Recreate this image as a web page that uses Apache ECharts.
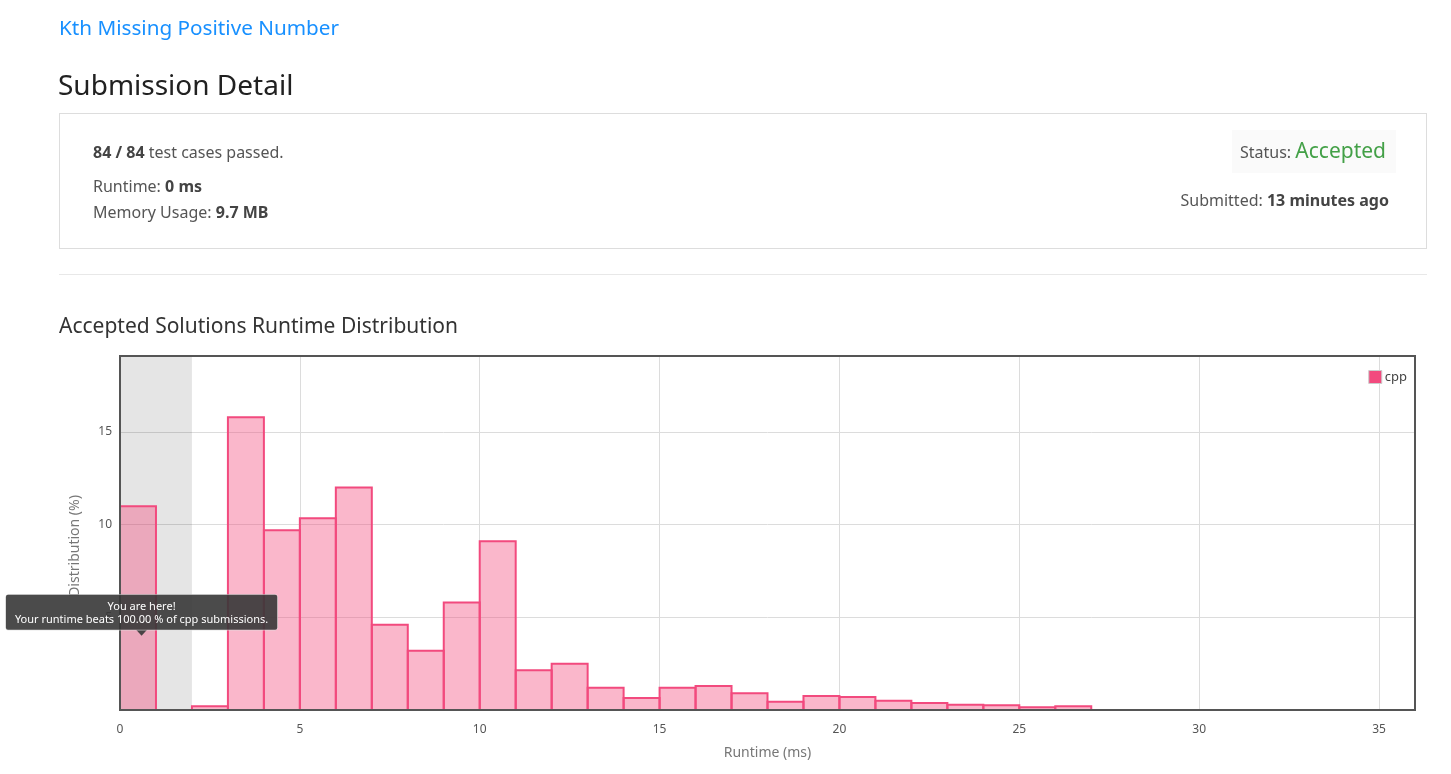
<!DOCTYPE html>
<html>
<head>
<meta charset="utf-8">
<script src="https://cdn.jsdelivr.net/npm/echarts@6/dist/echarts.min.js"></script>
<style>
  html, body { margin: 0; padding: 0; background: #fff; }
  body { width: 1451px; height: 774px; position: relative; overflow: hidden; font-family: "Noto Sans", "Open Sans", sans-serif; }
  #chart { position: absolute; left: 0; top: 0; width: 1451px; height: 774px; }
  .t { position: absolute; white-space: nowrap; }
  #q { left: 59px; top: 13px; line-height: 28px; font-size: 20.7px; color: #1890ff; }
  #h { left: 58px; top: 64px; line-height: 40px; font-size: 28px; color: #212121; }
  #box { position: absolute; left: 59px; top: 113px; width: 1366px; height: 134px; border: 1px solid #ddd; }
  .info { font-size: 16px; color: #555; line-height: 22px; }
  .info b { color: #444; }
  #l1 { left: 93px; top: 141px; }
  #l2 { left: 93px; top: 175px; }
  #l3 { left: 93px; top: 201px; }
  #st { position: absolute; left: 1232px; top: 130px; width: 164px; height: 43px; background: #fafafa; }
  #st1 { right: 65px; top: 136px; line-height: 28px; font-size: 16px; color: #555; }
  #st1 span { font-size: 21px; color: #43a047; }
  #sub { right: 62px; top: 189px; }
  #hr { position: absolute; left: 59px; top: 274px; width: 1368px; height: 1px; background: #e8e8e8; }
  #dist { left: 59px; top: 311px; line-height: 28px; font-size: 21px; color: #333; }
</style>
</head>
<body>
<div id="chart"></div>
<div class="t" id="q">Kth Missing Positive Number</div>
<div class="t" id="h">Submission Detail</div>
<div id="box"></div>
<div class="t info" id="l1"><b>84 / 84</b> test cases passed.</div>
<div class="t info" id="l2">Runtime: <b>0 ms</b></div>
<div class="t info" id="l3">Memory Usage: <b>9.7 MB</b></div>
<div id="st"></div>
<div class="t" id="st1">Status: <span>Accepted</span></div>
<div class="t info" id="sub">Submitted: <b>13 minutes ago</b></div>
<div id="hr"></div>
<div class="t" id="dist">Accepted Solutions Runtime Distribution</div>
<script>
// ---- data ----
const binStart = [0, 2, 3, 4, 5, 6, 7, 8, 9, 10, 11, 12, 13, 14, 15, 16, 17, 18, 19, 20, 21, 22, 23, 24, 25, 26];
const distribution = [11.0, 0.2, 15.8, 9.7, 10.35, 12.0, 4.6, 3.2, 5.8, 9.1, 2.15, 2.5, 1.2, 0.65, 1.2, 1.3, 0.9, 0.45, 0.75, 0.7, 0.5, 0.38, 0.28, 0.25, 0.15, 0.2];
const binWidth = 1;
const highlightRange = [0, 2];
const youAreHere = [0.6, 4.0];
const seriesName = 'cpp';
const xRange = [0, 36];
const yRange = [0, 19.1];
const tipLines = ['You are here!', 'Your runtime beats 100.00 % of cpp submissions.'];

const chart = echarts.init(document.getElementById('chart'));
const FONT = '"Noto Sans", "Open Sans", sans-serif';

chart.setOption({
  animation: false,
  textStyle: { fontFamily: FONT },
  grid: { left: 120, right: 36, top: 356, bottom: 64, show: true, borderColor: '#555', borderWidth: 2, backgroundColor: 'transparent', z: 5 },
  legend: {
    right: 39, top: 365, itemWidth: 13, itemHeight: 13, itemGap: 4,
    textStyle: { fontSize: 13, color: '#444', fontFamily: FONT, padding: [0, 0, 0, -2] },
    data: [{ name: seriesName, icon: 'rect', itemStyle: { color: '#f24a7e', borderColor: '#ccc', borderWidth: 1 } }]
  },
  xAxis: {
    type: 'value', min: xRange[0], max: xRange[1], interval: 5,
    name: 'Runtime (ms)', nameLocation: 'middle', nameGap: 36,
    nameTextStyle: { fontSize: 14, color: '#777' },
    axisLine: { show: false }, axisTick: { show: false },
    axisLabel: { fontSize: 12, color: '#555', margin: 14, formatter: v => (v % 5 === 0 ? String(v) : '') },
    splitLine: { showMinLine: false, showMaxLine: false, lineStyle: { color: '#dcdcdc', width: 1 } }
  },
  yAxis: {
    type: 'value', min: yRange[0], max: yRange[1], interval: 5,
    name: 'Distribution (%)', nameLocation: 'middle', nameGap: 38,
    nameTextStyle: { fontSize: 14, color: '#777', padding: [0, 26, 0, 0] },
    axisLine: { show: false }, axisTick: { show: false },
    axisLabel: { fontSize: 12, color: '#555', margin: 8, formatter: v => (v > 0 && v % 5 === 0 ? String(v) : '') },
    splitLine: { showMinLine: false, showMaxLine: false, lineStyle: { color: '#dcdcdc', width: 1 } }
  },
  series: [
    {
      type: 'custom', name: 'highlight', z: 1, silent: true,
      data: [highlightRange],
      renderItem: function (params, api) {
        const p0 = api.coord([api.value(0), yRange[1]]);
        const p1 = api.coord([api.value(1), yRange[0]]);
        return { type: 'rect', shape: { x: p0[0], y: p0[1], width: p1[0] - p0[0], height: p1[1] - p0[1] }, style: { fill: 'rgba(0,0,0,0.1)' } };
      }
    },
    {
      type: 'custom', name: seriesName, z: 2,
      itemStyle: { color: '#f24a7e' },
      data: binStart.map((b, i) => [b, distribution[i], b + binWidth]),
      renderItem: function (params, api) {
        const p0 = api.coord([api.value(0), api.value(1)]);
        const p1 = api.coord([api.value(2), 0]);
        return { type: 'rect', shape: { x: p0[0], y: p0[1], width: p1[0] - p0[0], height: p1[1] - p0[1] }, style: { fill: 'rgba(242,74,126,0.4)', stroke: '#f24a7e', lineWidth: 2 } };
      }
    },
    {
      type: 'scatter', name: 'tip', z: 10, silent: true,
      data: [youAreHere],
      symbol: 'triangle', symbolRotate: 180, symbolSize: [11, 6], symbolOffset: [0, -3],
      itemStyle: { color: 'rgba(55,55,55,0.9)', opacity: 1 },
      label: {
        show: true, position: 'top', distance: 0,
        formatter: tipLines.join('\n'),
        color: '#fff', fontSize: 11, lineHeight: 13, align: 'center',
        backgroundColor: 'rgba(55,55,55,0.9)', borderColor: '#ddd', borderWidth: 0.5, borderRadius: 2,
        padding: [5, 9, 4, 9]
      }
    }
  ]
});
</script>
</body>
</html>
